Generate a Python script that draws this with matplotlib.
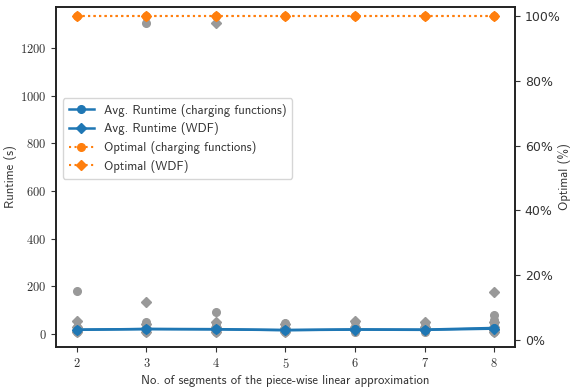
import matplotlib
matplotlib.use("Agg")
import matplotlib.pyplot as plt
from matplotlib.ticker import FuncFormatter, FixedLocator

plt.rcParams["font.family"] = ["DejaVu Sans"]
plt.rcParams["mathtext.fontset"] = "cm"

label_font = ["cmss10", "DejaVu Sans"]

segments = [2, 3, 4, 5, 6, 7, 8]

# individual runtimes per instance (seconds)
runs_cf = {
    2: [180, 30, 20, 15, 10],
    3: [1305, 50, 30, 20, 10],
    4: [92, 40, 25, 15, 10],
    5: [45, 30, 20, 10],
    6: [50, 30, 20, 10],
    7: [45, 30, 20, 10],
    8: [80, 60, 45, 30, 20, 10],
}
runs_wdf = {
    2: [55, 30, 15, 8],
    3: [132, 40, 25, 10],
    4: [1305, 50, 30, 15, 8],
    5: [40, 25, 10],
    6: [55, 30, 15],
    7: [50, 30, 15],
    8: [178, 50, 30, 15, 8],
}

avg_cf = [18, 20, 19, 16, 19, 18, 25]
avg_wdf = [17, 21, 20, 16, 18, 17, 22]

optimal_cf = [100, 100, 100, 100, 100, 100, 100]
optimal_wdf = [100, 100, 100, 100, 100, 100, 100]

blue = "#1f77b4"
orange = "#ff7f0e"
gray = "#999999"
text_col = "#333333"

fig = plt.figure(figsize=(5.76, 3.89), dpi=100)
ax = fig.add_axes([56 / 576, 42 / 389, 459 / 576, 340 / 389])
ax2 = ax.twinx()

for x in segments:
    ax.plot([x] * len(runs_cf[x]), runs_cf[x], "o", color=gray, ms=5.5, zorder=1)
    ax.plot([x] * len(runs_wdf[x]), runs_wdf[x], "D", color=gray, ms=5, zorder=1)

l1, = ax.plot(segments, avg_cf, "-o", color=blue, lw=1.8, ms=5.5, zorder=3,
              label="Avg. Runtime (charging functions)")
l2, = ax.plot(segments, avg_wdf, "-D", color=blue, lw=1.8, ms=5, zorder=3,
              label="Avg. Runtime (WDF)")
l3, = ax2.plot(segments, optimal_cf, ":o", color=orange, lw=1.5, ms=5.5,
               label="Optimal (charging functions)")
l4, = ax2.plot(segments, optimal_wdf, ":D", color=orange, lw=1.5, ms=5,
               label="Optimal (WDF)")

ax.set_xlim(1.7, 8.3)
ax.set_ylim(-55, 1373)
ax2.set_ylim(-2.2, 102.9)

ax.xaxis.set_major_locator(FixedLocator(segments))
ax.yaxis.set_major_locator(FixedLocator([0, 200, 400, 600, 800, 1000, 1200]))
ax2.yaxis.set_major_locator(FixedLocator([0, 20, 40, 60, 80, 100]))
ax.xaxis.set_major_formatter(FuncFormatter(lambda v, p: f"${v:.0f}$"))
ax.yaxis.set_major_formatter(FuncFormatter(lambda v, p: f"${v:.0f}$"))
ax2.yaxis.set_major_formatter(FuncFormatter(lambda v, p: f"{v:.0f}%"))

for a in (ax, ax2):
    a.tick_params(labelsize=9, colors=text_col, labelcolor=text_col)
    for s in a.spines.values():
        s.set_color("#222222")
        s.set_linewidth(1.2)

ax.set_xlabel("No. of segments of the piece-wise linear approximation",
              fontsize=9.1, family=label_font, color=text_col, labelpad=3)
ax.set_ylabel("Runtime (s)", fontsize=9.1, family=label_font, color=text_col,
              va="center", ha="center")
ax2.set_ylabel("Optimal (%)", fontsize=9.1, family=label_font, color=text_col,
               va="center", ha="center")
ax.yaxis.set_label_coords(-0.1, 0.5)
ax2.yaxis.set_label_coords(1.108, 0.5)

ax2.legend(handles=[l1, l2, l3, l4], loc="upper left",
           bbox_to_anchor=(0.015, 0.732), borderaxespad=0,
           prop={"family": label_font, "size": 9.1},
           labelcolor=text_col, framealpha=0.8, edgecolor="#cccccc",
           borderpad=0.45, labelspacing=0.45)

fig.savefig("out.png", dpi=100)
